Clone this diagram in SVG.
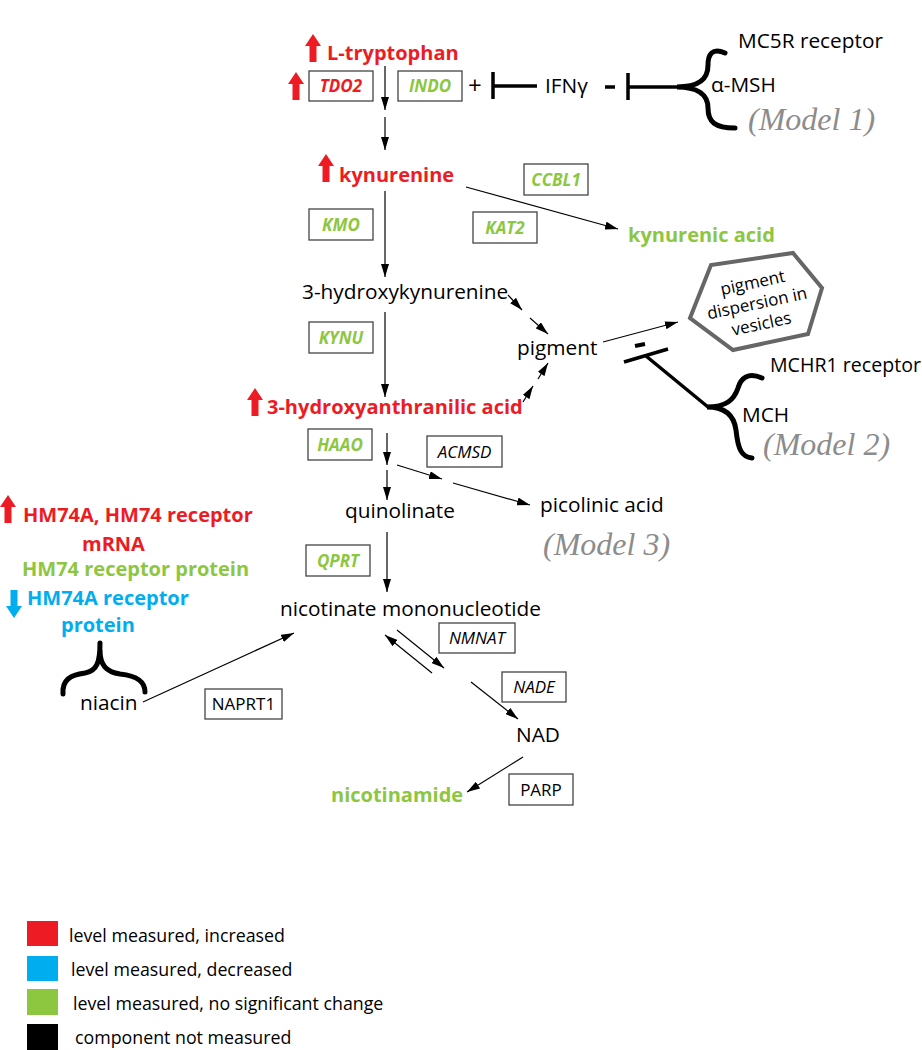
<svg xmlns="http://www.w3.org/2000/svg" width="922" height="1050" viewBox="0 0 922 1050">
<style>
text{font-family:"Open Sans","Liberation Sans",sans-serif}
.t{font-size:20.8px;fill:#000}
.r{font-size:20px;font-weight:bold;fill:#ed1c24}
.g{font-size:20px;font-weight:bold;fill:#8dc63f}
.b{font-size:20px;font-weight:bold;fill:#00aeef}
.box{fill:#fff;stroke:#444;stroke-width:1.3}
.bl{font-size:17px;font-style:italic;text-anchor:middle}
.bg{fill:#8dc63f;font-weight:bold}
.br{fill:#ed1c24;font-weight:bold}
.bk{fill:#000}
.up{font-size:17px;text-anchor:middle;fill:#000}
.model{font-family:"Liberation Serif",serif;font-style:italic;font-size:32px;fill:#8c8c8c}
.ar{stroke:#000;stroke-width:1.2;fill:none;marker-end:url(#ah)}
.thick{stroke:#000;stroke-width:3.5;fill:none}
.brace{stroke:#000;stroke-width:5;fill:none;stroke-linecap:round}
.leg{font-size:17.8px;fill:#000}
</style>
<defs>
<marker id="ah" markerUnits="userSpaceOnUse" markerWidth="13" markerHeight="8" refX="13" refY="4" orient="auto">
<path d="M0 0 L13 4 L0 8 Z" fill="#000"/>
</marker>
<path id="uparrow" d="M8 0 L16 12 L11.5 12 L11.5 28 L4.5 28 L4.5 12 L0 12 Z"/>
</defs>

<g id="connectors">
<line class="ar" x1="385" y1="66" x2="385" y2="110"/>
<line class="ar" x1="385" y1="117" x2="385" y2="150"/>
<line class="ar" x1="385" y1="191" x2="385" y2="277"/>
<line class="ar" x1="466" y1="187" x2="618" y2="229"/>
<line class="ar" x1="385" y1="312" x2="385" y2="397"/>
<line class="ar" x1="508" y1="295" x2="522" y2="310"/>
<line class="ar" x1="530" y1="318" x2="548" y2="334"/>
<line class="ar" x1="523" y1="402" x2="533" y2="386"/>
<line class="ar" x1="538" y1="379" x2="548" y2="363"/>
<line class="ar" x1="603" y1="342" x2="678" y2="322"/>
<line class="ar" x1="387" y1="433" x2="387" y2="465"/>
<line class="ar" x1="387" y1="470" x2="387" y2="500"/>
<line class="ar" x1="397" y1="465" x2="442" y2="479"/>
<line class="ar" x1="453" y1="483" x2="530" y2="505"/>
<line class="ar" x1="387" y1="532" x2="387" y2="592"/>
<line class="ar" x1="397" y1="630" x2="444" y2="668"/>
<line class="ar" x1="432" y1="673" x2="385" y2="635"/>
<line class="ar" x1="471" y1="682" x2="518" y2="719"/>
<line class="ar" x1="523" y1="757" x2="467" y2="792"/>
<line class="ar" x1="143" y1="702" x2="294" y2="633"/>
<line class="thick" x1="493" y1="72" x2="493" y2="99"/>
<line class="thick" x1="493" y1="86" x2="537" y2="86"/>
<line class="thick" x1="628" y1="73" x2="628" y2="100"/>
<line class="thick" x1="628" y1="87" x2="679" y2="87"/>
<line class="thick" x1="624" y1="362" x2="668" y2="349"/>
<line class="thick" x1="646" y1="356" x2="708" y2="407"/>
</g>

<g id="l-tryptophan">
<use href="#uparrow" x="305" y="34" fill="#ed1c24"/>
<text class="r" x="327" y="60">L-tryptophan</text>
</g>
<g id="tdo2">
<use href="#uparrow" x="288" y="72" fill="#ed1c24"/>
<rect class="box" x="309" y="71" width="64" height="30"/>
<text class="bl br" x="341" y="92">TDO2</text>
</g>
<g id="indo">
<rect class="box" x="398" y="71" width="64" height="30"/>
<text class="bl bg" x="430" y="92">INDO</text>
<text x="468" y="94" style="font-size:24px;fill:#000">+</text>
</g>
<g id="ifng">
<text class="t" x="545" y="93">IFNγ</text>
<line x1="605" y1="87" x2="615" y2="87" stroke="#000" stroke-width="3.5"/>
</g>
<g id="msh">
<path class="brace" d="M725 53 C712 47 708 55 708 65 C708 80 698 87 677 87 C698 87 708 95 708 108 C708 122 715 128 735 128"/>
<text class="t" x="738" y="48">MC5R receptor</text>
<text class="t" x="711" y="92">α-MSH</text>
<text class="model" x="748" y="130">(Model 1)</text>
</g>
<g id="kynurenine">
<use href="#uparrow" x="318" y="154" fill="#ed1c24"/>
<text class="r" x="339" y="182">kynurenine</text>
</g>
<g id="kmo">
<rect class="box" x="309" y="209" width="64" height="31"/>
<text class="bl bg" x="341" y="231">KMO</text>
</g>
<g id="ccbl1">
<rect class="box" x="524" y="164" width="64" height="31"/>
<text class="bl bg" x="556" y="186">CCBL1</text>
</g>
<g id="kat2">
<rect class="box" x="473" y="212" width="64" height="31"/>
<text class="bl bg" x="505" y="234">KAT2</text>
</g>
<g id="kynurenic-acid">
<text class="g" x="628" y="242">kynurenic acid</text>
</g>
<g id="hydroxykynurenine">
<text class="t" x="302" y="299">3-hydroxykynurenine</text>
</g>
<g id="kynu">
<rect class="box" x="309" y="322" width="64" height="31"/>
<text class="bl bg" x="341" y="344">KYNU</text>
</g>
<g id="pigment">
<text class="t" x="517" y="355">pigment</text>
</g>
<g id="dispersion">
<polygon points="690,318 711,265 793,253 822,288 808,334 733,350" fill="#fff" stroke="#666" stroke-width="4" stroke-linejoin="miter"/>
<g transform="rotate(-12 757 303)">
<text class="up" x="757" y="288">pigment</text>
<text class="up" x="757" y="309">dispersion in</text>
<text class="up" x="757" y="330">vesicles</text>
</g>
</g>
<g id="mch">
<line x1="635" y1="346" x2="645" y2="344" stroke="#000" stroke-width="4"/>
<path class="brace" d="M762 378 C748 372 741 378 738 388 C734 400 726 407 707 407 C725 407 734 415 736 430 C738 450 742 457 752 458"/>
<text class="t" x="770" y="372" style="font-size:19.6px">MCHR1 receptor</text>
<text class="t" x="742" y="422">MCH</text>
<text class="model" x="763" y="455">(Model 2)</text>
</g>
<g id="hydroxyanthranilic-acid">
<use href="#uparrow" x="247" y="388" fill="#ed1c24"/>
<text class="r" x="267" y="414">3-hydroxyanthranilic acid</text>
</g>
<g id="haao">
<rect class="box" x="308" y="429" width="64" height="31"/>
<text class="bl bg" x="340" y="451">HAAO</text>
</g>
<g id="acmsd">
<rect class="box" x="427" y="436" width="75" height="31"/>
<text class="bl bk" x="464.5" y="458">ACMSD</text>
</g>
<g id="quinolinate">
<text class="t" x="345" y="518">quinolinate</text>
</g>
<g id="picolinic-acid">
<text class="t" x="540" y="512">picolinic acid</text>
<text class="model" x="543" y="555">(Model 3)</text>
</g>
<g id="qprt">
<rect class="box" x="306" y="545" width="64" height="31"/>
<text class="bl bg" x="338" y="567">QPRT</text>
</g>
<g id="nmn">
<text class="t" x="280" y="616">nicotinate mononucleotide</text>
</g>
<g id="nmnat">
<rect class="box" x="439" y="623" width="76" height="30"/>
<text class="bl bk" x="477" y="644">NMNAT</text>
</g>
<g id="nade">
<rect class="box" x="502" y="672" width="64" height="30"/>
<text class="bl bk" x="534" y="693">NADE</text>
</g>
<g id="nad">
<text class="t" x="516" y="742">NAD</text>
</g>
<g id="parp">
<rect class="box" x="509" y="774" width="64" height="31"/>
<text class="up" x="541" y="796">PARP</text>
</g>
<g id="nicotinamide">
<text class="g" x="331" y="802">nicotinamide</text>
</g>
<g id="naprt1">
<rect class="box" x="205" y="689" width="77" height="30"/>
<text class="up" x="243.5" y="710">NAPRT1</text>
</g>
<g id="hm74">
<use href="#uparrow" x="0" y="495" fill="#ed1c24"/>
<text class="r" x="23" y="522">HM74A, HM74 receptor</text>
<text class="r" x="82" y="551">mRNA</text>
<text class="g" x="22" y="576">HM74 receptor protein</text>
<use href="#uparrow" transform="translate(22 618) rotate(180)" fill="#00aeef"/>
<text class="b" x="27" y="605">HM74A receptor</text>
<text class="b" x="61" y="632">protein</text>
</g>
<g id="niacin">
<path class="brace" d="M63 694 C62 680 70 675 85 673 C97 671 100 662 100 643 M100 650 C100 665 106 672 120 674 C138 676 145 682 145 692"/>
<text class="t" x="80" y="710">niacin</text>
</g>
<g id="legend">
<rect x="27" y="921" width="31" height="25" fill="#ed1c24"/>
<rect x="27" y="956" width="31" height="25" fill="#00aeef"/>
<rect x="27" y="989" width="31" height="26" fill="#8dc63f"/>
<rect x="27" y="1024" width="31" height="26" fill="#000"/>
<text class="leg" x="69" y="942">level measured, increased</text>
<text class="leg" x="71" y="976">level measured, decreased</text>
<text class="leg" x="73" y="1010">level measured, no significant change</text>
<text class="leg" x="75" y="1044">component not measured</text>
</g>
</svg>
